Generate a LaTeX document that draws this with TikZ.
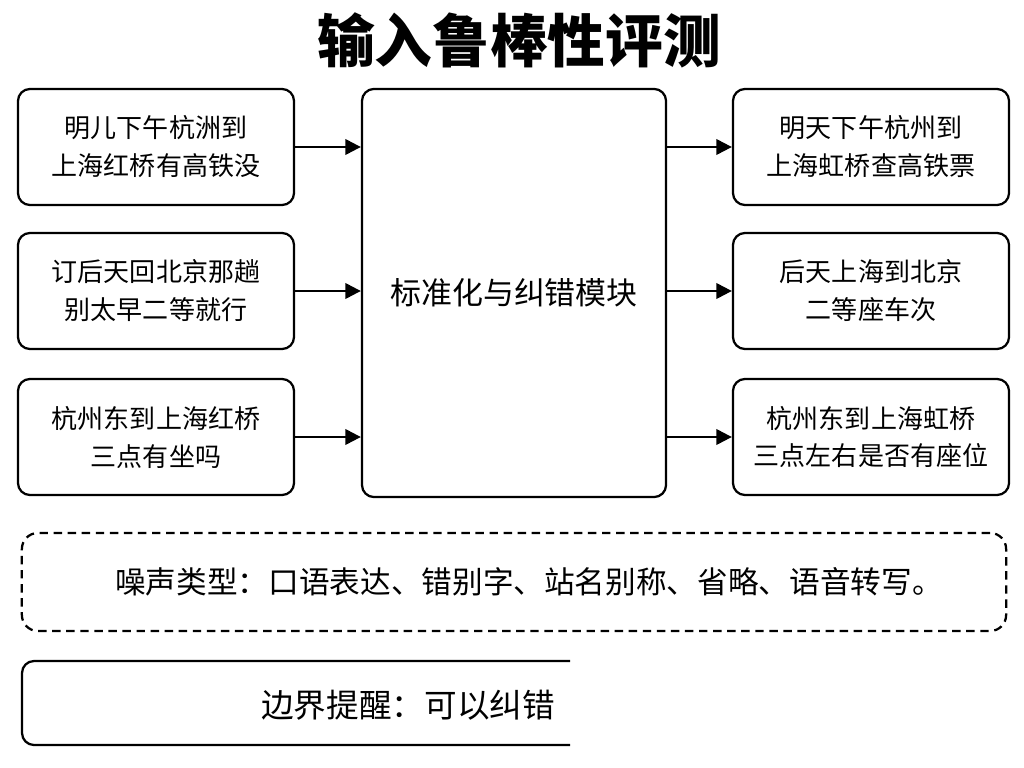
\documentclass[tikz,border=0pt]{standalone}
\usepackage{fontspec}
\newfontfamily\cjk{Noto Sans CJK SC}
\usetikzlibrary{arrows.meta}

\tikzset{
    inbox/.style = {draw, line width = 1.6pt, rounded corners = 0.3cm, align = center,
        minimum width = 6.9cm, minimum height = 2.9cm, font = \cjk\fontsize{18.5}{27}\selectfont},
    flow/.style = {line width = 1.6pt, -{Triangle[length = 11pt, width = 11pt]}}
}

\begin{document}
\begin{tikzpicture}[x = 0.025cm, y = -0.025cm]
        \useasboundingbox (0, 0) rectangle (1024, 768);
        \node[font = \cjk\bfseries\fontsize{41}{44}\selectfont] (title) at (519, 40) {输入鲁棒性评测};
        % left column: raw input
        \node[inbox] (in1) at (156, 147) {明儿下午杭洲到\\上海红桥有高铁没};
        \node[inbox] (in2) at (156, 291) {订后天回北京那趟\\别太早二等就行};
        \node[inbox] (in3) at (156, 437) {杭州东到上海红桥\\三点有坐吗};
        % middle module
        \node[inbox, minimum width = 7.6cm, minimum height = 10.2cm,
            font = \cjk\fontsize{22}{26}\selectfont] (mid) at (514, 293) {标准化与纠错模块};
        % right column: normalised output
        \node[inbox] (out1) at (871, 147) {明天下午杭州到\\上海虹桥查高铁票};
        \node[inbox] (out2) at (871, 291) {后天上海到北京\\二等座车次};
        \node[inbox] (out3) at (871, 437) {杭州东到上海虹桥\\三点左右是否有座位};
        \foreach \i in {1, 2, 3} {
            \draw[flow] (in\i.east) -- (in\i.east -| mid.west);
            \draw[flow] (mid.east |- out\i.west) -- (out\i.west);
        }
        % notes
        \node[draw, dash pattern = on 6pt off 4pt, line width = 1.6pt, rounded corners = 0.4cm,
            minimum width = 24.6cm, minimum height = 2.45cm, font = \cjk\fontsize{21.8}{26}\selectfont]
            (noise) at (514, 582) {\hspace{0.75cm}噪声类型：口语表达、错别字、站名别称、省略、语音转写。};
        \draw[line width = 1.6pt, rounded corners = 0.3cm] (570, 661) -- (22, 661) -- (22, 745) -- (570, 745);
        \node[font = \cjk\fontsize{23.2}{28}\selectfont, anchor = west, inner sep = 0pt] (limit)
            at (261, 705) {边界提醒：可以纠错};
    \end{tikzpicture}
\end{document}
